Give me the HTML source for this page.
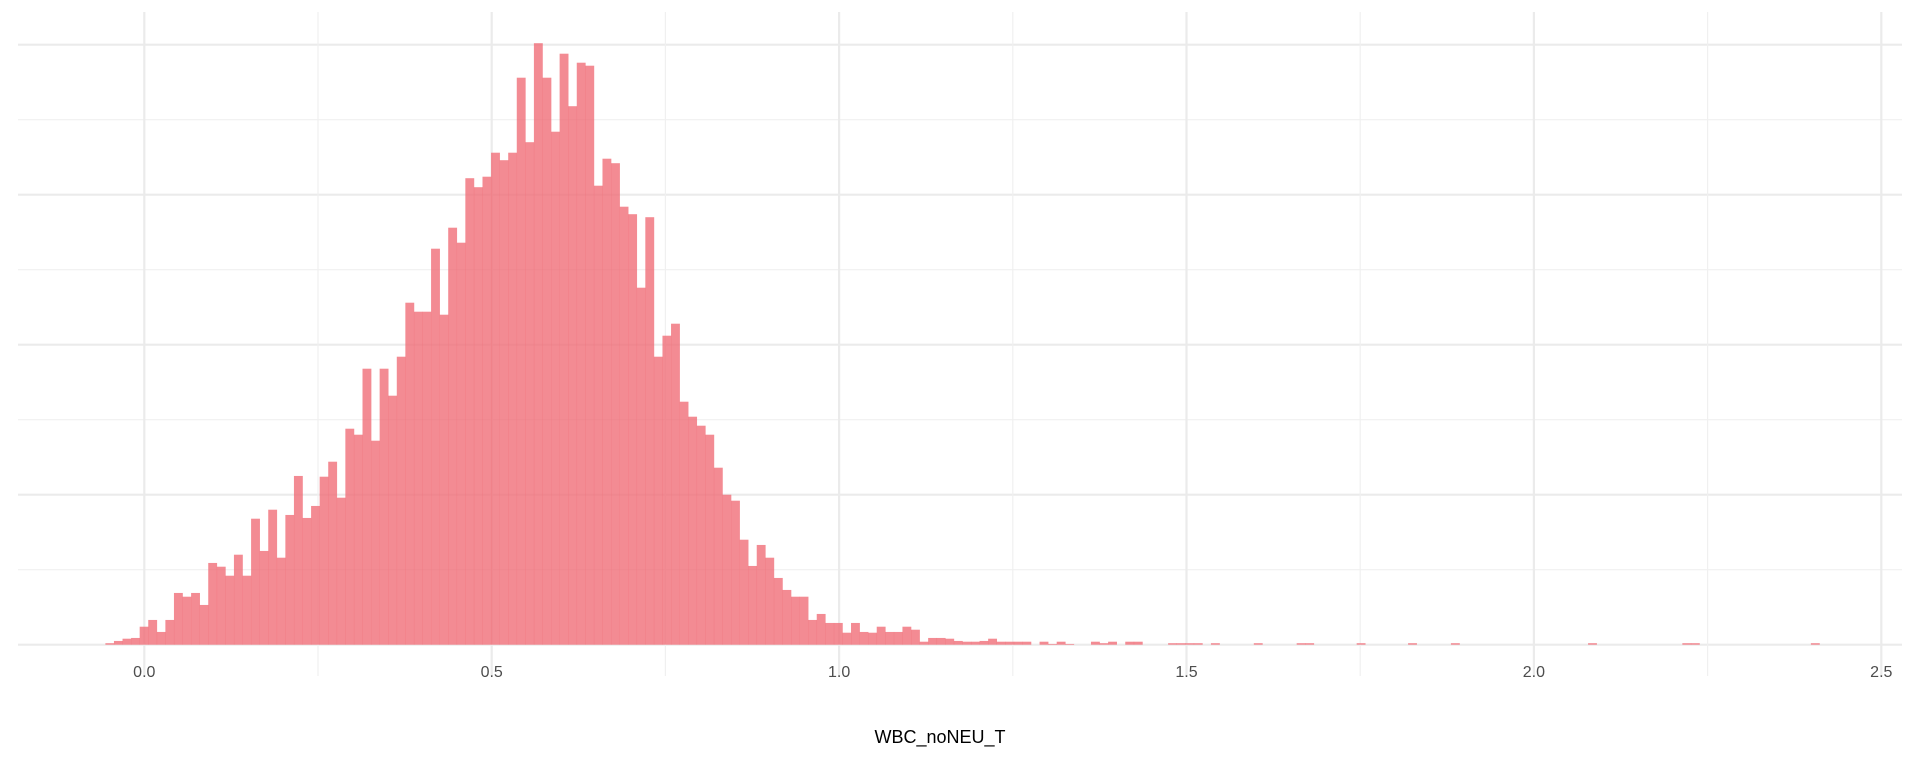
<!DOCTYPE html>
<html><head><meta charset="utf-8"><style>
html,body{margin:0;padding:0;background:#fff;}
svg{display:block;font-family:"Liberation Sans",sans-serif;}
</style></head><body>
<svg id="chart" width="1920" height="768">
<g id="grid"></g>
<g id="bars"></g>
<g id="xticks"></g>
<text x="940" y="743" text-anchor="middle" font-size="18" fill="#000">WBC_noNEU_T</text>
</svg>
<script>
const binStart = -0.056;
const binWidth = 0.012335;
const counts = [1,2.5,4,4.5,12,16.5,8.5,16.5,34.5,32,34.5,26.5,54.5,52,46,60,46,84,62.5,90,58,86.5,112.5,84.5,92.5,
112,122,98,144,140,184,136,184,166,192,228,222,222,264,220,278,268,311,305,312,328,323,328,378,335,401,378,342,394,359,388,386,306,324,321,292,287,238,285,
192,206,214,162,152,146,140,118,100,96,70,52.5,66.5,58,44.5,36.5,32,32,16.5,20.5,14.5,14.5,8,14.5,8.5,8,12,8.5,8.5,12,10,2,4.5,4.5,4,2.5,2,2,2.5,4,2,2,2,2,0,2,0.5,2,0.5,0,0,2,1,2,0,2,2,0,0,0,1,1,1,1,0,1,0,0,0,0,1,0,0,0,0,1,1,0,0,0,0,0,1,0,0,0,0,0,1,0,0,0,0,1,0,0,0,0,0,0,0,0,0,0,0,0,0,0,0,1,0,0,0,0,0,0,0,0,0,0,1,1,0,0,0,0,0,0,0,0,0,0,0,0,0,1];
const xTicks = [0.0, 0.5, 1.0, 1.5, 2.0, 2.5];
const xTickLabels = ["0.0","0.5","1.0","1.5","2.0","2.5"];
const yGridCounts = [0,100,200,300,400];

const NS = "http://www.w3.org/2000/svg";
const X0 = 144.3, XS = 694.8, Y0 = 644.7, YS = 1.5;
function xs(v){ return X0 + v*XS; }
function ys(c){ return Y0 - c*YS; }
function mk(tag, attrs, parent){
  const e = document.createElementNS(NS, tag);
  for (const k in attrs) e.setAttribute(k, attrs[k]);
  parent.appendChild(e); return e;
}
const grid = document.getElementById('grid');
yGridCounts.forEach((c,i)=>{
  const l = mk('line',{x1:18,x2:1902,y1:ys(c),y2:ys(c),stroke:'#EBEBEB','stroke-width':2.2},grid);
  
  
  if (i < yGridCounts.length-1){
    const m = (c + yGridCounts[i+1])/2;
    const l2 = mk('line',{x1:18,x2:1902,y1:ys(m),y2:ys(m),stroke:'#F0F0F0','stroke-width':1.2},grid);
    
    
  }
});
xTicks.forEach((v,i)=>{
  const l = mk('line',{x1:xs(v),x2:xs(v),y1:12,y2:676,stroke:'#EBEBEB','stroke-width':2.2},grid);
  
  
  if (i < xTicks.length-1){
    const m = (v + xTicks[i+1])/2;
    const l2 = mk('line',{x1:xs(m),x2:xs(m),y1:12,y2:676,stroke:'#F0F0F0','stroke-width':1.2},grid);
    
    
  }
});
const bars = document.getElementById('bars');
counts.forEach((c,i)=>{
  if (c <= 0) return;
  const a = xs(binStart + i*binWidth), b = xs(binStart + (i+1)*binWidth);
  const r = mk('rect',{x:a,y:ys(c),width:b-a+0.3,height:c*YS,fill:'rgb(240,110,120)','fill-opacity':0.8},bars);
  
  
});
const xt = document.getElementById('xticks');
xTicks.forEach((v,i)=>{
  const t = mk('text',{x:xs(v),y:677,'text-anchor':'middle','font-size':16,fill:'#4D4D4D'},xt);
  t.textContent = xTickLabels[i];
  
  
});
</script>
</body></html>
